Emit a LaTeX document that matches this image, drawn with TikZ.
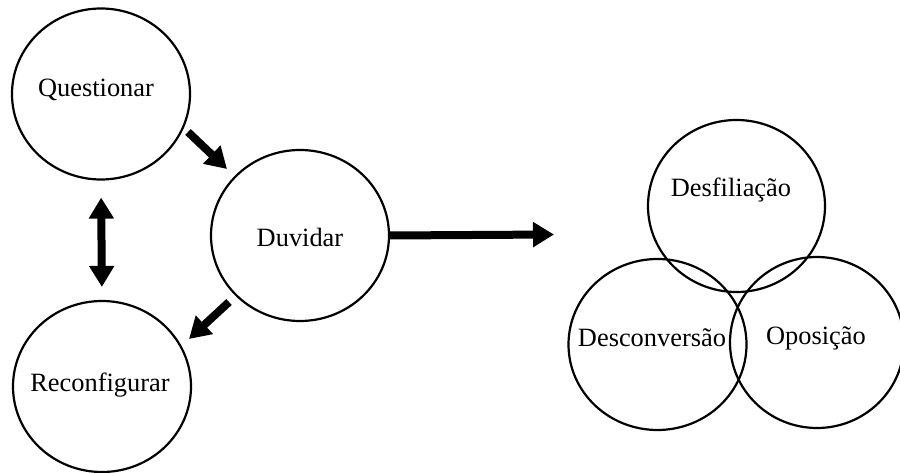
\documentclass[tikz,border=0pt]{standalone}
\usepackage{fontspec}
\setmainfont{Liberation Serif}
\usetikzlibrary{shapes.geometric,arrows.meta}
\tikzset{
  ring/.style={draw=black, line width=2.2pt, ellipse, inner sep=0pt, minimum width=178pt, minimum height=171pt},
  lbl/.style={font=\fontsize{26.4}{30}\selectfont, inner sep=0pt},
  fatarrow/.style={line width=8pt, -{Triangle[length=21pt,width=24pt]}},
  fatdouble/.style={line width=8pt, {Triangle[length=21pt,width=24pt]}-{Triangle[length=21pt,width=24pt]}},
}
\begin{document}
\begin{tikzpicture}[x=1pt,y=-1pt]
\useasboundingbox (0,0) rectangle (900,473);
% left group
\node[ring] (Q) at (101,94) {};
\node[ring] (D) at (300,235.5) {};
\node[ring] (R) at (102,386.5) {};
\node[lbl] (tQ) at (96,90) {Questionar};
\node[lbl] (tD) at (300,237) {Duvidar};
\node[lbl] (tR) at (100,385) {Reconfigurar};
% right group
\node[ring, minimum width=177pt, minimum height=172pt] (F) at (736.5,206) {};
\node[ring] (C) at (657.5,344.5) {};
\node[ring, minimum width=174pt] (O) at (817,342.5) {};
\node[lbl] (tF) at (731,190) {Desfiliação};
\node[lbl] (tC) at (652,338) {Desconversão};
\node[lbl] (tO) at (816,338) {Oposição};
% arrow end points
\coordinate (a1) at (188,132);
\coordinate (a2) at (227,169);
\coordinate (b1) at (229,302);
\coordinate (b2) at (189,339);
\coordinate (c2) at (554,234.5);
\draw[fatarrow] (a1) -- (a2);
\draw[fatarrow] (b1) -- (b2);
\draw[fatdouble, shorten <=17pt, shorten >=13pt] (Q.south) -- (R.north);
\draw[fatarrow] (D.east) -- (c2);
\end{tikzpicture}
\end{document}
